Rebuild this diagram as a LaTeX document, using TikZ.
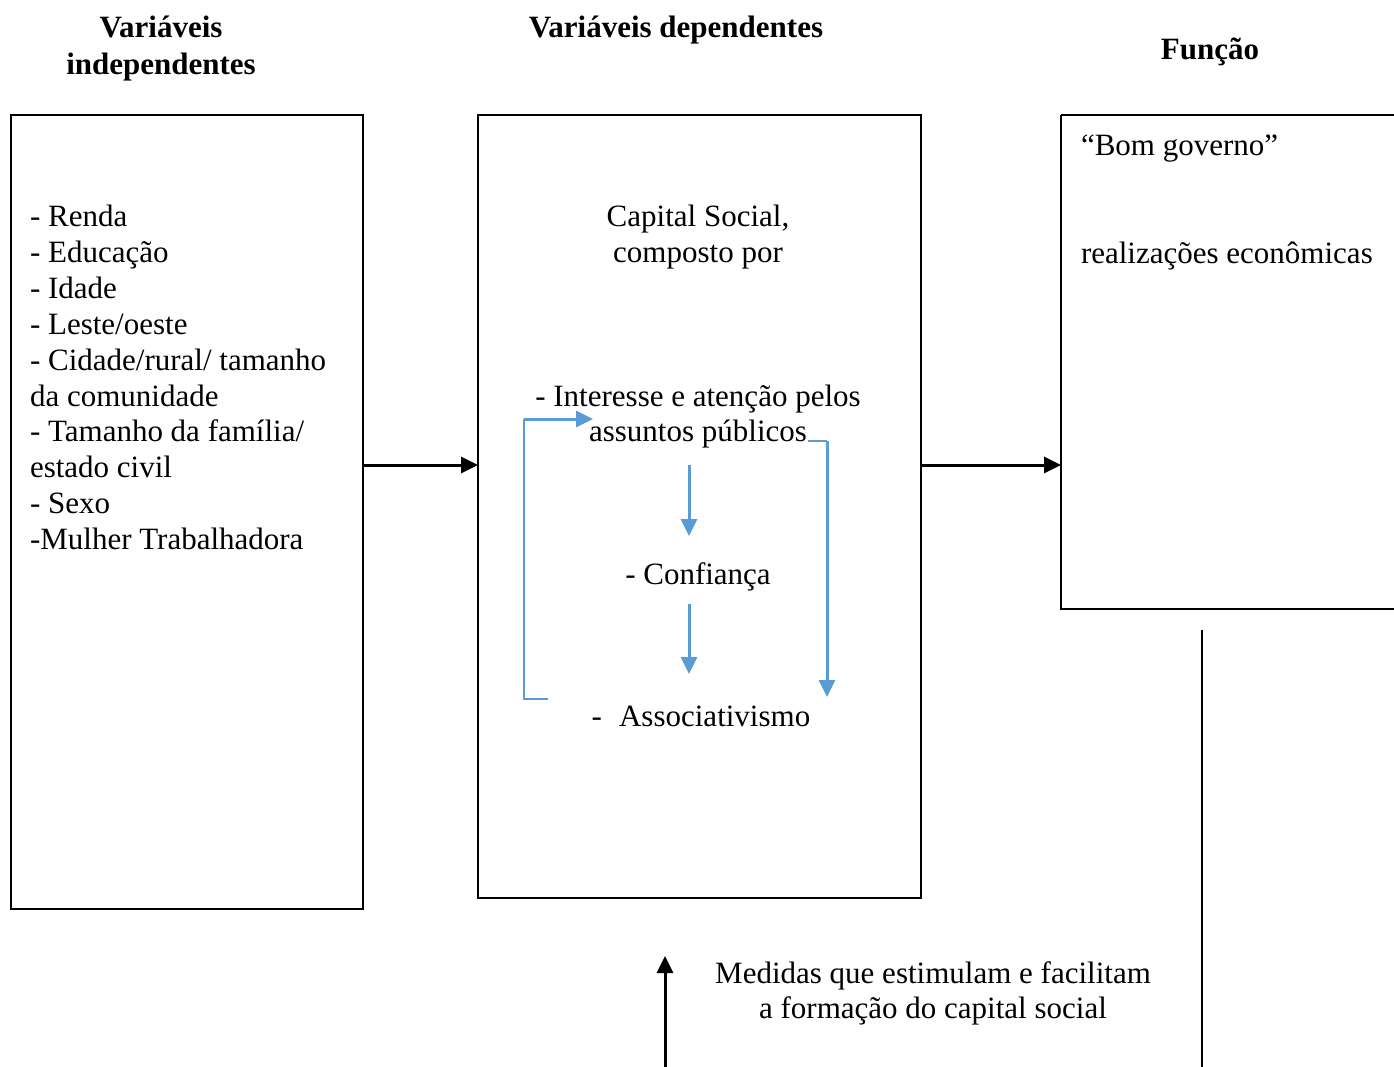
\documentclass[tikz,border=0pt]{standalone}
\usepackage{fontspec}
\setmainfont{Liberation Serif}
\usetikzlibrary{arrows.meta}
\definecolor{wblue}{HTML}{5B9BD5}
\begin{document}
\begin{tikzpicture}[x=1pt,y=-1pt,
  every node/.style={inner sep=0pt,outer sep=0pt,font=\fontsize{31}{36}\selectfont},
  ttl/.style={font=\fontsize{31}{37}\selectfont\bfseries,anchor=base},
  txt/.style={anchor=base west},
  ctxt/.style={anchor=base},
  frame/.style={draw=black,line width=2pt},
  blk/.style={draw=black,line width=3pt,-{Triangle[length=17pt,width=16pt]}},
  blu/.style={draw=wblue,line width=3pt,-{Triangle[length=17pt,width=16pt]}},
  thin blu/.style={draw=wblue,line width=1.8pt}]
\useasboundingbox (0,0) rectangle (1394,1067);
\clip (0,0) rectangle (1394,1067);
% titles
\node[ttl] (t1a) at (161,37.5) {Variáveis};
\node[ttl] (t1b) at (161,74.5) {independentes};
\node[ttl] (t2) at (676,37.5) {Variáveis dependentes};
\node[ttl] (t3) at (1210,60) {Função};
% boxes
\draw[frame] (11,115) rectangle (363,909);
\coordinate (LB) at (363,465);
\draw[frame] (478,115) rectangle (921,898);
\coordinate (MBw) at (478,465);
\coordinate (MBe) at (921,465);
\draw[frame] (1061,115) -- (1400,115) (1061,115) -- (1061,609) -- (1400,609);
\coordinate (RBw) at (1061,465);
% left text
\foreach \t [count=\i] in {- Renda,- Educação,- Idade,- Leste/oeste,- Cidade/rural/ tamanho,da comunidade,- Tamanho da família/,estado civil,- Sexo,-Mulher Trabalhadora}
  \node[txt] (L\i) at (30,{226.5+35.9*(\i-1)}) {\t};
% middle text
\node[ctxt] (cs1) at (698,226.5) {Capital Social,};
\node[ctxt] (cs2) at (698,262.5) {composto por};
\node[ctxt] (int1) at (698,406.5) {- Interesse e atenção pelos};
\node[ctxt] (int2) at (698,441.5) {assuntos públicos};
\node[ctxt] (conf) at (698,584.5) {- Confiança};
\node[ctxt] (assoc) at (701,726.5) {-\hspace{0.55em}Associativismo};
% right text
\node[txt] (bg) at (1081,155.5) {“Bom governo”};
\node[txt] (re) at (1081,263.5) {realizações econômicas};
% bottom text
\node[ctxt] (med1) at (933,983.5) {Medidas que estimulam e facilitam};
\node[ctxt] (med2) at (933,1018.5) {a formação do capital social};
% black arrows
\draw[blk] (LB) -- (MBw);
\draw[blk] (MBe) -- (RBw);
\coordinate (up0) at (665,1070);
\coordinate (up1) at (665,956);
\draw[blk] (up0) -- (up1);
\coordinate (vl0) at (1202,630);
\coordinate (vl1) at (1202,1070);
\draw[black,line width=1.8pt] (vl0) -- (vl1);
% blue arrows
\coordinate (b1s) at (689,465); \coordinate (b1e) at (689,536);
\coordinate (b2s) at (689,604); \coordinate (b2e) at (689,674);
\draw[blu] (b1s) -- (b1e);
\draw[blu] (b2s) -- (b2e);
\coordinate (r0) at (808,441); \coordinate (r1) at (827,441); \coordinate (r2) at (827,697);
\draw[thin blu] (r0) -- (r1);
\draw[blu] (r1) -- (r2);
\coordinate (l0) at (548,699); \coordinate (l1) at (524,699); \coordinate (l2) at (524,419); \coordinate (l3) at (593,419);
\draw[thin blu] (l0) -- (l1) -- (l2);
\draw[blu] (l2) -- (l3);
\end{tikzpicture}
\end{document}
